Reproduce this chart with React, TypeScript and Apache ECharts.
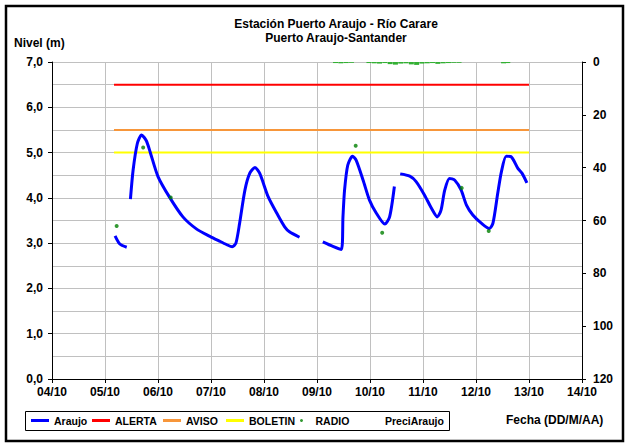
import React, { useEffect, useRef } from "react";
import * as echarts from "echarts";

// ---- Data ----
const TITLE_LINE1 = "Estación Puerto Araujo - Río Carare";
const TITLE_LINE2 = "Puerto Araujo-Santander";

// x = day of October (fractional), y = level (m)
const SEG1_X = [5.19, 5.28, 5.41];
const SEG1_Y = [3.16, 2.98, 2.91];
const SEG2_X = [5.48, 5.53, 5.61, 5.69, 5.78, 5.85, 6.0, 6.22, 6.47, 6.73, 6.98, 7.15, 7.29, 7.4, 7.47, 7.54, 7.64, 7.73, 7.83, 7.92, 8.08, 8.26, 8.39, 8.48, 8.67];
const SEG2_Y = [3.97, 4.61, 5.2, 5.39, 5.26, 5.02, 4.47, 4.01, 3.58, 3.31, 3.15, 3.05, 2.97, 2.92, 3.0, 3.44, 4.17, 4.54, 4.67, 4.54, 4.02, 3.62, 3.36, 3.25, 3.13];
const SEG3_X = [9.11, 9.3, 9.46, 9.49, 9.52, 9.58, 9.67, 9.74, 9.87, 9.99, 10.12, 10.28, 10.37, 10.46];
const SEG3_Y = [3.03, 2.93, 2.86, 3.58, 4.17, 4.72, 4.92, 4.83, 4.39, 3.95, 3.66, 3.42, 3.58, 4.25];
const SEG4_X = [10.57, 10.75, 10.87, 11.03, 11.16, 11.27, 11.34, 11.41, 11.5, 11.6, 11.72, 11.82, 11.94, 12.1, 12.25, 12.32, 12.41, 12.48, 12.57, 12.66, 12.79, 12.87, 12.96];
const SEG4_Y = [4.53, 4.48, 4.36, 4.06, 3.77, 3.58, 3.73, 4.17, 4.43, 4.39, 4.17, 3.84, 3.62, 3.44, 3.32, 3.44, 4.1, 4.58, 4.92, 4.91, 4.65, 4.54, 4.33];

const RADIO_X = [5.22, 5.72, 6.24, 9.73, 10.23, 11.73, 12.24];
const RADIO_Y = [3.38, 5.11, 4.01, 5.15, 3.23, 4.22, 3.27];

const THRESH_X = [5.17, 13.0];
const ALERTA = 6.5;
const AVISO = 5.5;
const BOLETIN = 5.0;

const PRECIP_X = [9.35, 9.45, 9.55, 9.65, 9.98, 10.08, 10.18, 10.28, 10.38, 10.48, 10.58, 10.68, 10.78, 10.88, 10.98, 11.08, 11.18, 11.28, 11.38, 11.48, 11.58, 11.68, 12.52, 12.6];
const PRECIP_Y = [0.4, 0.5, 0.4, 0.3, 0.4, 0.5, 0.6, 0.4, 0.8, 1.0, 0.6, 0.5, 0.9, 1.1, 0.6, 0.5, 0.4, 0.7, 0.5, 0.4, 0.3, 0.3, 0.5, 0.4];

const X_MIN = 4;
const X_MAX = 14;
const Y_MIN = 0;
const Y_MAX = 7;
const Y2_MAX = 120;

const FONT = "Liberation Sans, Arial, sans-serif";

function zip(xs: number[], ys: number[]) {
  return xs.map((x, i) => [x, ys[i]]);
}

export default function App() {
  const ref = useRef<HTMLDivElement>(null);
  useEffect(() => {
    if (!ref.current) return;
    const chart = echarts.init(ref.current, null, { renderer: "svg" });

    const segs = [zip(SEG1_X, SEG1_Y), zip(SEG2_X, SEG2_Y), zip(SEG3_X, SEG3_Y), zip(SEG4_X, SEG4_Y)];
    const araujo: any[] = [];
    segs.forEach((s, i) => {
      if (i > 0) araujo.push([(segs[i - 1][segs[i - 1].length - 1][0] + s[0][0]) / 2, "-"]);
      araujo.push(...s);
    });

    const legendText = { fontFamily: FONT, fontWeight: "bold", fontSize: 10.5, color: "#000" };
    const mkLegend = (name: string, left: number, icon: string, extra: any = {}) => ({
      show: true,
      data: [{ name, icon, ...extra }],
      left,
      top: 415,
      padding: 0,
      itemWidth: 18,
      itemHeight: 3,
      selectedMode: false,
      textStyle: legendText,
    });

    chart.setOption({
      animation: false,
      backgroundColor: "#fff",
      grid: { left: 52, right: 46, top: 62, bottom: 64, containLabel: false },
      title: [
        {
          text: TITLE_LINE1 + "\n" + TITLE_LINE2,
          left: 331,
          top: 12,
          textAlign: "center",
          textStyle: { fontFamily: FONT, fontWeight: "bold", fontSize: 12, lineHeight: 14, color: "#000" },
        },
      ],
      legend: [
        mkLegend("Araujo", 31, "rect"),
        mkLegend("ALERTA", 92, "rect"),
        mkLegend("AVISO", 163, "rect"),
        mkLegend("BOLETIN", 226, "rect"),
        mkLegend("RADIO", 300, "circle"),
        mkLegend("PreciAraujo", 362, "rect", { itemStyle: { opacity: 0 } }),
      ],
      xAxis: {
        type: "value",
        min: X_MIN,
        max: X_MAX,
        interval: 1,
        axisLine: { show: true, lineStyle: { color: "#000", width: 1 } },
        axisTick: { show: true, length: 4, lineStyle: { color: "#000" } },
        axisLabel: {
          margin: 7,
          fontFamily: FONT,
          fontWeight: "bold",
          fontSize: 12,
          color: "#000",
          formatter: (v: number) => (v < 10 ? "0" + v : "" + v) + "/10",
        },
        splitLine: { show: true, lineStyle: { color: "#c0c0c0", width: 1 } },
      },
      yAxis: [
        {
          type: "value",
          min: Y_MIN,
          max: Y_MAX,
          interval: 1,
          axisLine: { show: true, lineStyle: { color: "#000", width: 1 } },
          axisTick: { show: true, length: 4, lineStyle: { color: "#000" } },
          axisLabel: {
            margin: 9,
            fontFamily: FONT,
            fontWeight: "bold",
            fontSize: 12,
            color: "#000",
            formatter: (v: number) => v.toFixed(1).replace(".", ","),
          },
          splitLine: { show: true, lineStyle: { color: "#c0c0c0", width: 1 } },
          minorTick: { show: false, splitNumber: 2 },
          minorSplitLine: { show: true, lineStyle: { color: "#c0c0c0", width: 1 } },
        },
        {
          type: "value",
          min: 0,
          max: Y2_MAX,
          interval: 20,
          inverse: true,
          position: "right",
          axisLine: { show: true, lineStyle: { color: "#000", width: 1 } },
          axisTick: { show: true, length: 4, lineStyle: { color: "#000" } },
          axisLabel: {
            margin: 11,
            fontFamily: FONT,
            fontWeight: "bold",
            fontSize: 12,
            color: "#000",
          },
          splitLine: { show: false },
        },
      ],
      series: [
        {
          name: "PreciAraujo",
          type: "bar",
          yAxisIndex: 1,
          data: zip(PRECIP_X, PRECIP_Y),
          barWidth: 5,
          itemStyle: { color: "#33b033" },
          z: 1,
        },
        {
          name: "ALERTA",
          type: "line",
          data: THRESH_X.map((x) => [x, ALERTA]),
          symbol: "none",
          lineStyle: { color: "#ff0000", width: 2 },
          itemStyle: { color: "#ff0000" },
        },
        {
          name: "AVISO",
          type: "line",
          data: THRESH_X.map((x) => [x, AVISO]),
          symbol: "none",
          lineStyle: { color: "#f7963a", width: 2 },
          itemStyle: { color: "#f7963a" },
        },
        {
          name: "BOLETIN",
          type: "line",
          data: THRESH_X.map((x) => [x, BOLETIN]),
          symbol: "none",
          lineStyle: { color: "#ffff00", width: 2 },
          itemStyle: { color: "#ffff00" },
        },
        {
          name: "Araujo",
          type: "line",
          data: araujo,
          symbol: "none",
          smooth: 0.25,
          connectNulls: false,
          lineStyle: { color: "#0000ff", width: 3 },
          itemStyle: { color: "#0000ff" },
          z: 5,
        },
        {
          name: "RADIO",
          type: "scatter",
          data: zip(RADIO_X, RADIO_Y),
          symbol: "circle",
          symbolSize: 4,
          itemStyle: { color: "#008000" },
          z: 6,
        },
      ],
      graphic: [
        {
          type: "rect",
          shape: { x: 6, y: 6, width: 617, height: 435 },
          style: { fill: "none", stroke: "#000", lineWidth: 2.5 },
          silent: true,
        },
        {
          type: "rect",
          shape: { x: 25.5, y: 411.5, width: 424, height: 19 },
          style: { fill: "none", stroke: "#000", lineWidth: 1 },
          silent: true,
        },
        {
          type: "text",
          x: 14,
          y: 37,
          style: { text: "Nivel (m)", fontFamily: FONT, fontWeight: "bold", fontSize: 12, fill: "#000" },
        },
        {
          type: "text",
          x: 506,
          y: 414,
          style: { text: "Fecha (DD/M/AA)", fontFamily: FONT, fontWeight: "bold", fontSize: 12, fill: "#000" },
        },
      ],
    });
    return () => chart.dispose();
  }, []);
  return <div ref={ref} style={{ position: "fixed", left: 0, top: 0, width: 628, height: 443 }} />;
}
